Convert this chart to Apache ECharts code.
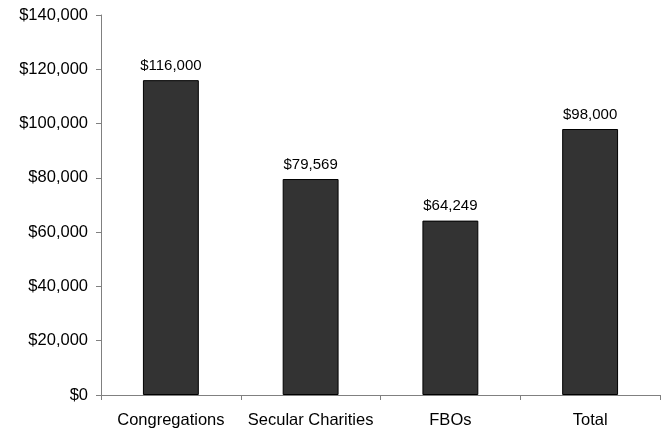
<!DOCTYPE html>
<html>
<head>
<meta charset="utf-8">
<script src="https://cdn.jsdelivr.net/npm/echarts@6/dist/echarts.min.js"></script>
<style>
  html, body { margin: 0; padding: 0; background: #fff; }
  #chart { width: 666px; height: 429px; }
</style>
</head>
<body>
<div id="chart"></div>
<script>
const categories = ["Congregations", "Secular Charities", "FBOs", "Total"];
const values = [116000, 79569, 64249, 98000];

const money = (v) => "$" + Math.round(v).toLocaleString("en-US");
const font = "'Liberation Sans', Arial, sans-serif";

const chart = echarts.init(document.getElementById("chart"));
chart.setOption({
  animation: false,
  grid: { left: 101, right: 6, top: 15, bottom: 33 },
  xAxis: {
    type: "category",
    data: categories,
    axisLine: { lineStyle: { color: "#808080", width: 1 } },
    axisTick: { show: true, length: 5, alignWithLabel: false, lineStyle: { color: "#808080" } },
    axisLabel: { color: "#000", fontFamily: font, fontSize: 16.5, margin: 17, interval: 0 },
  },
  yAxis: {
    type: "value",
    min: 0,
    max: 140000,
    interval: 20000,
    splitLine: { show: false },
    axisLine: { show: true, lineStyle: { color: "#808080", width: 1 } },
    axisTick: { show: true, length: 5, lineStyle: { color: "#808080" } },
    axisLabel: { color: "#000", fontFamily: font, fontSize: 16.5, margin: 13, formatter: money },
  },
  series: [
    {
      type: "bar",
      data: values,
      barWidth: "40%",
      itemStyle: { color: "#333333", borderColor: "#000", borderWidth: 1 },
      label: {
        show: true,
        position: "top",
        distance: 7,
        color: "#000",
        fontFamily: font,
        fontSize: 15,
        formatter: (p) => money(p.value),
      },
    },
  ],
});
</script>
</body>
</html>
